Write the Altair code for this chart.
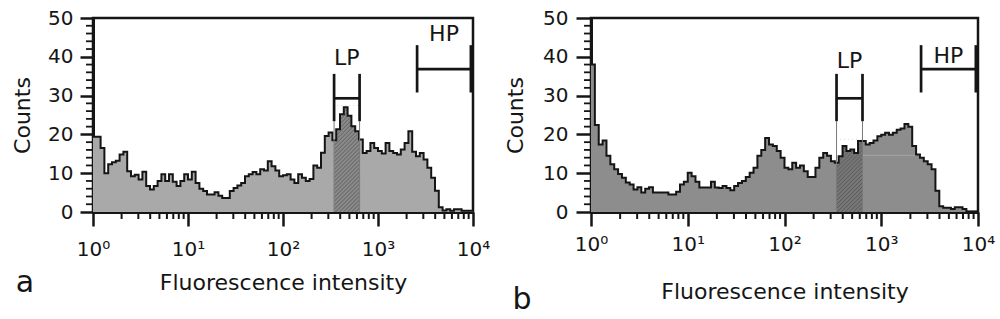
import altair as alt
import numpy as np
import pandas as pd

FONT = "DejaVu Sans"
INK = "#151515"
CHANNEL = 0.04  # channel width in decades (100 channels from 10^0 to 10^4)

counts_a = [19.4, 19.4, 16.5, 10.0, 12.3, 12.8, 13.2, 14.8, 15.5, 10.5,
            9.2, 9.6, 8.4, 10.4, 6.7, 5.8, 6.7, 8.0, 9.7, 8.0,
            9.7, 7.8, 6.7, 8.0, 9.7, 8.4, 10.4, 7.5, 6.0, 5.4,
            4.5, 4.5, 5.1, 4.2, 3.6, 3.6, 5.4, 6.2, 6.8, 7.5,
            9.2, 9.7, 10.3, 9.7, 11.0, 10.7, 13.1, 11.8, 10.7, 9.2,
            9.5, 9.7, 8.4, 7.5, 9.7, 8.8, 8.0, 8.5, 12.0, 11.4,
            15.3, 19.6, 20.5, 18.5, 21.3, 25.2, 27.0, 24.8, 22.1, 20.8,
            18.7, 15.2, 15.7, 17.8, 16.5, 15.7, 15.1, 17.8, 15.7, 15.2,
            14.8, 16.1, 17.8, 20.8, 15.5, 14.4, 15.2, 13.5, 11.4, 8.8,
            5.5, 1.2, 0.4, 0.7, 0.3, 0.7, 0.7, 0.3, 0.3, 0.3]

counts_b = [38.0, 22.4, 17.4, 18.4, 14.5, 12.3, 11.0, 9.8, 8.8, 7.6,
            7.1, 5.8, 6.4, 5.0, 6.0, 6.4, 5.0, 5.0, 5.0, 5.0,
            4.5, 4.5, 5.2, 7.1, 7.8, 10.1, 9.2, 7.8, 6.3, 6.3,
            6.3, 7.8, 6.3, 6.2, 6.7, 6.2, 5.6, 6.7, 7.5, 8.0,
            9.0, 10.1, 11.4, 14.5, 16.0, 19.1, 17.4, 17.0, 15.7, 14.0,
            11.4, 11.0, 12.7, 11.4, 12.0, 10.5, 9.0, 9.0, 11.4, 14.0,
            15.2, 14.5, 13.1, 12.7, 14.4, 17.0, 15.7, 16.1, 15.2, 18.3,
            18.3, 17.4, 17.8, 18.4, 19.5, 19.9, 20.4, 19.9, 20.4, 21.2,
            21.5, 22.7, 22.0, 17.0, 14.8, 14.0, 13.1, 12.3, 11.0, 5.5,
            1.5, 1.1, 1.1, 0.8, 1.2, 1.2, 0.8, 0.1, 0.1, 0.1]

lp_gate = [345, 640]
hp_gate = [2580, 9500]
lp_bracket = [23.4, 29.3, 35.6]   # bottom, bar, top (counts)
hp_bracket = [30.8, 36.8, 43.0]

major_x = [1, 10, 100, 1000, 10000]
major_y = [0, 10, 20, 30, 40, 50]
minor_x = [m * 10 ** k for k in range(4) for m in range(2, 10)]
minor_y = [v for v in range(0, 51, 2) if v % 10]

SUPER = ("datum.value == 1 ? '10\u2070' : datum.value == 10 ? '10\u00b9' : "
         "datum.value == 100 ? '10\u00b2' : datum.value == 1000 ? '10\u00b3' : '10\u2074'")


def step_points(counts, lo=None, hi=None):
    edges = np.arange(len(counts) + 1) * CHANNEL
    vals = list(counts) + [counts[-1]]
    if lo is None:
        return pd.DataFrame({"x": 10 ** edges, "count": vals})
    l_lo, l_hi = np.log10(lo), np.log10(hi)
    i_lo, i_hi = int(l_lo // CHANNEL), int(l_hi // CHANNEL)
    xs = [l_lo] + list(edges[i_lo + 1:i_hi + 1]) + [l_hi]
    ys = [counts[i_lo]] + list(counts[i_lo + 1:i_hi + 1]) + [counts[i_hi]]
    return pd.DataFrame({"x": 10 ** np.array(xs), "count": ys})


def hatch_lines(lo, hi, top, k, spacing=0.042):
    l_lo, l_hi = np.log10(lo), np.log10(hi)
    rows = []
    for c in np.arange(l_lo - top / k, l_hi, spacing):
        a, b = max(c, l_lo), min(l_hi, c + top / k)
        if b > a:
            rows.append({"x": 10 ** a, "x2": 10 ** b, "y": k * (a - c), "y2": k * (b - c)})
    return pd.DataFrame(rows)


def panel(counts, p):
    w, h = p["width"], p["height"]
    xscale = alt.Scale(type="log", domain=[1, 10000], nice=False)
    yscale = alt.Scale(domain=[0, 50], nice=False, zero=True)
    xaxis = alt.Axis(values=major_x, labelExpr=SUPER, title="Fluorescence intensity",
                     tickSize=p["xtick"], tickWidth=2.5, domainWidth=3,
                     labelPadding=p["xlabpad"], titlePadding=p["xtitlepad"],
                     labelFlush=False, labelOverlap=False, grid=False)
    yaxis = alt.Axis(values=major_y, title="Counts", tickSize=p["ytick"], tickWidth=2.5,
                     domainWidth=3, labelPadding=p["ylabpad"], titlePadding=p["ytitlepad"],
                     grid=False)

    def X(f):
        return alt.X(f"{f}:Q", scale=xscale, axis=xaxis)

    def Y(f):
        return alt.Y(f"{f}:Q", scale=yscale, axis=yaxis)

    hist = step_points(counts)
    lp = step_points(counts, *lp_gate)
    top = float(lp["count"].max()) + 0.4
    lp["top"] = top
    k = (w / 4) / (h / 50)
    hatch = hatch_lines(lp_gate[0], lp_gate[1], top, k)

    base = alt.Chart(hist)
    fill = base.mark_area(interpolate="step-after", color=p["fill"]).encode(x=X("x"), y=Y("count"))
    outline = base.mark_line(interpolate="step-after", color=INK, strokeWidth=2).encode(
        x=X("x"), y=Y("count"))

    lp_fill = alt.Chart(lp).mark_area(interpolate="step-after", color=p["hatch_fill"]).encode(
        x=X("x"), y=Y("count"))
    lp_hatch = alt.Chart(hatch).mark_rule(color=p["hatch_ink"], strokeWidth=0.8).encode(
        x=X("x"), x2="x2", y=Y("y"), y2="y2")
    lp_mask = alt.Chart(lp).mark_area(interpolate="step-after", color="white").encode(
        x=X("x"), y=Y("count"), y2="top")

    gate_lines = alt.Chart(pd.DataFrame({"x": lp_gate, "y": [0, 0], "y2": [lp_bracket[0]] * 2})).mark_rule(
        color="#7a7a7a", strokeWidth=1).encode(x=X("x"), y=Y("y"), y2="y2")

    seg = []
    for (lo, hi), (b0, bm, b1) in ((lp_gate, lp_bracket), (hp_gate, hp_bracket)):
        seg += [{"x": lo, "x2": lo, "y": b0, "y2": b1},
                {"x": hi, "x2": hi, "y": b0, "y2": b1},
                {"x": lo, "x2": hi, "y": bm, "y2": bm}]
    brackets = alt.Chart(pd.DataFrame(seg)).mark_rule(color=INK, strokeWidth=2.7).encode(
        x=X("x"), x2="x2", y=Y("y"), y2="y2")

    gate_text = pd.DataFrame({
        "x": [np.sqrt(lp_gate[0] * lp_gate[1]), np.sqrt(hp_gate[0] * hp_gate[1])],
        "y": [p["lp_text_y"], p["hp_text_y"]],
        "label": ["LP", "HP"],
    })
    labels = alt.Chart(gate_text).mark_text(font=FONT, fontSize=22, color=INK, baseline="middle").encode(
        x=X("x"), y=Y("y"), text="label:N")

    yminor = alt.Chart(pd.DataFrame({"v": minor_y})).mark_rule(color=INK, strokeWidth=1.8).encode(
        y=Y("v"), x=alt.value(-7), x2=alt.value(0))
    xminor = alt.Chart(pd.DataFrame({"v": minor_x})).mark_rule(color=INK, strokeWidth=2).encode(
        x=X("v"), y=alt.value(h), y2=alt.value(h + 7))

    letter = alt.Chart(pd.DataFrame({"t": [p["letter"]]})).mark_text(
        font=FONT, fontSize=30, color=INK, baseline="alphabetic", align="center").encode(
        text="t:N", x=alt.value(p["letter_x"]), y=alt.value(p["letter_y"]))

    layers = [fill, lp_fill, lp_hatch, lp_mask]
    if p.get("streak"):
        x0, x1, yv = p["streak"]
        streak = alt.Chart(pd.DataFrame({"x": [x0], "x2": [x1], "y": [yv]})).mark_rule(
            color="#a4a4a4", strokeWidth=1).encode(x=X("x"), x2="x2", y=Y("y"))
        layers.append(streak)
    layers += [outline, gate_lines, brackets, labels, yminor, xminor, letter]
    return alt.layer(*layers).properties(width=w, height=h)


panel_a = panel(counts_a, dict(width=380, height=194, fill="#a9a9a9", hatch_fill="#8a8a8a",
                               hatch_ink="#555555", xtick=14, xlabpad=13, xtitlepad=13,
                               ytick=13, ylabpad=7, ytitlepad=13, lp_text_y=39.8, hp_text_y=45.9,
                               letter="a", letter_x=-68, letter_y=274))
panel_b = panel(counts_b, dict(width=387, height=194, fill="#8d8d8d", hatch_fill="#777777",
                               hatch_ink="#525252", xtick=14, xlabpad=8, xtitlepad=27,
                               ytick=15, ylabpad=8, ytitlepad=15, lp_text_y=39.0, hp_text_y=40.1,
                               letter="b", letter_x=-69, letter_y=291,
                               streak=(lp_gate[1], 2300, 14.6)))

chart = alt.hconcat(panel_a, panel_b, spacing=12).properties(
    padding={"left": 10, "top": 6, "right": 0, "bottom": 0},
    background="white",
).configure_view(stroke=INK, strokeWidth=2.5).configure_axis(
    labelFont=FONT, titleFont=FONT, labelFontSize=20, titleFontSize=22,
    labelColor=INK, titleColor=INK, tickColor=INK, domainColor=INK,
    titleFontWeight="normal",
)

chart.save("out.html", embed_options={"renderer": "svg", "actions": False})
